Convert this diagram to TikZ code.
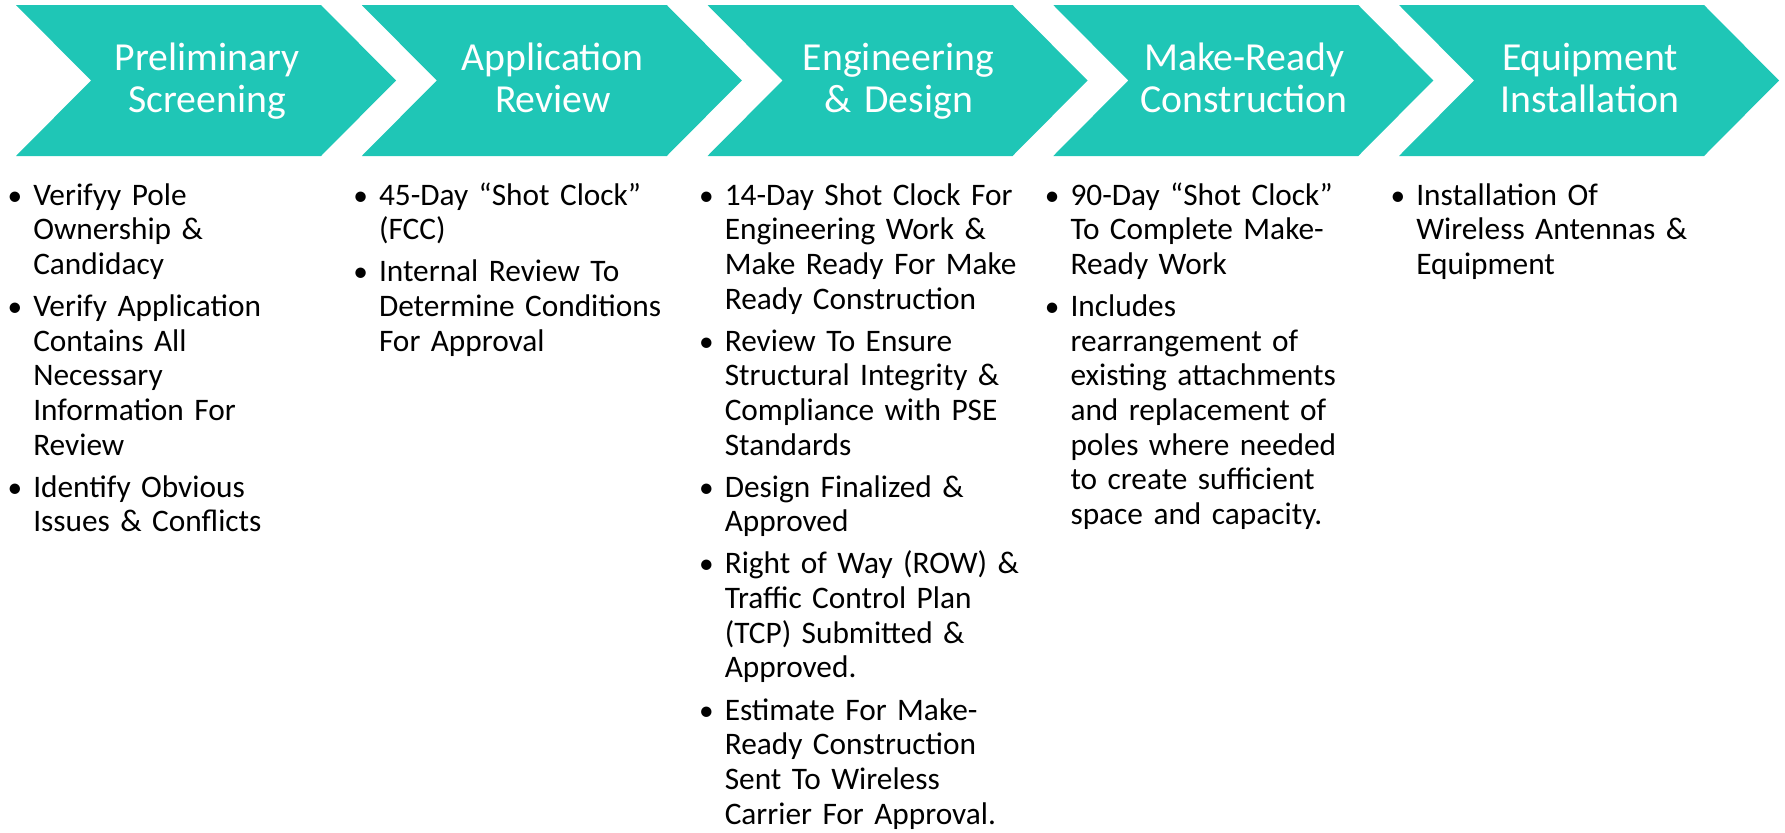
\documentclass[tikz,border=0pt]{standalone}
\usepackage{fontspec}
\setmainfont{Carlito}
\definecolor{teal1}{HTML}{1FC6B6}
\tikzset{
  chev/.style={fill=teal1},
  stitle/.style={text=white, font=\fontsize{29.8}{32}\selectfont, align=center, text width=250pt, anchor=base, inner sep=0pt},
  btext/.style={font=\fontsize{23.5}{26}\selectfont, align=left, text width=245pt, anchor=base west, inner sep=0pt},
  bmark/.style={font=\fontsize{22}{26}\selectfont, anchor=base, inner sep=0pt},
}
\begin{document}
\begin{tikzpicture}[x=0.75pt,y=-0.75pt]
\useasboundingbox (0,0) rectangle (1785,832);
% chevrons
\foreach \i in {0,...,4}{
  \pgfmathsetmacro\L{16+345.75*\i}
  \fill[chev] (\L,5) -- (\L+305,5) -- (\L+380,80.5) -- (\L+305,156) -- (\L,156) -- (\L+75,80.5) -- cycle;
}
% titles
\node[stitle] (t1) at (207,70) {Preliminary\\Screening};
\node[stitle] (t2) at (552.75,70) {Application\\Review};
\node[stitle] (t3) at (898.5,70) {Engineering\\\& Design};
\node[stitle] (t4) at (1244.25,70) {Make-Ready\\Construction};
\node[stitle] (t5) at (1590,70) {Equipment\\Installation};
% column 1
\node[bmark] (b11) at (15,205) {•};
\node[btext] (p11) at (33,205) {Verifyy Pole\\Ownership \&\\Candidacy};
\node[bmark] (b12) at (15,316.4) {•};
\node[btext] (p12) at (33,316.4) {Verify Application\\Contains All\\Necessary\\Information For\\Review};
\node[bmark] (b13) at (15,497.2) {•};
\node[btext] (p13) at (33,497.2) {Identify Obvious\\Issues \& Conflicts};
% column 2
\node[bmark] (b21) at (360.75,205) {•};
\node[btext] (p21) at (378.75,205) {45-Day “Shot Clock”\\(FCC)};
\node[bmark] (b22) at (360.75,281.7) {•};
\node[btext] (p22) at (378.75,281.7) {Internal Review To\\Determine Conditions\\For Approval};
% column 3
\node[bmark] (b31) at (706.5,205) {•};
\node[btext] (p31) at (724.5,205) {14-Day Shot Clock For\\Engineering Work \&\\Make Ready For Make\\Ready Construction};
\node[bmark] (b32) at (706.5,351.1) {•};
\node[btext] (p32) at (724.5,351.1) {Review To Ensure\\Structural Integrity \&\\Compliance with PSE\\Standards};
\node[bmark] (b33) at (706.5,497.2) {•};
\node[btext] (p33) at (724.5,497.2) {Design Finalized \&\\Approved};
\node[bmark] (b34) at (706.5,573.9) {•};
\node[btext] (p34) at (724.5,573.9) {Right of Way (ROW) \&\\Traffic Control Plan\\(TCP) Submitted \&\\Approved.};
\node[bmark] (b35) at (706.5,720) {•};
\node[btext] (p35) at (724.5,720) {Estimate For Make-\\Ready Construction\\Sent To Wireless\\Carrier For Approval.};
% column 4
\node[bmark] (b41) at (1052.25,205) {•};
\node[btext] (p41) at (1070.25,205) {90-Day “Shot Clock”\\To Complete Make-\\Ready Work};
\node[bmark] (b42) at (1052.25,316.4) {•};
\node[btext] (p42) at (1070.25,316.4) {Includes\\rearrangement of\\existing attachments\\and replacement of\\poles where needed\\to create sufficient\\space and capacity.};
% column 5
\node[bmark] (b51) at (1398,205) {•};
\node[btext] (p51) at (1416,205) {Installation Of\\Wireless Antennas \&\\Equipment};
\end{tikzpicture}
\end{document}
